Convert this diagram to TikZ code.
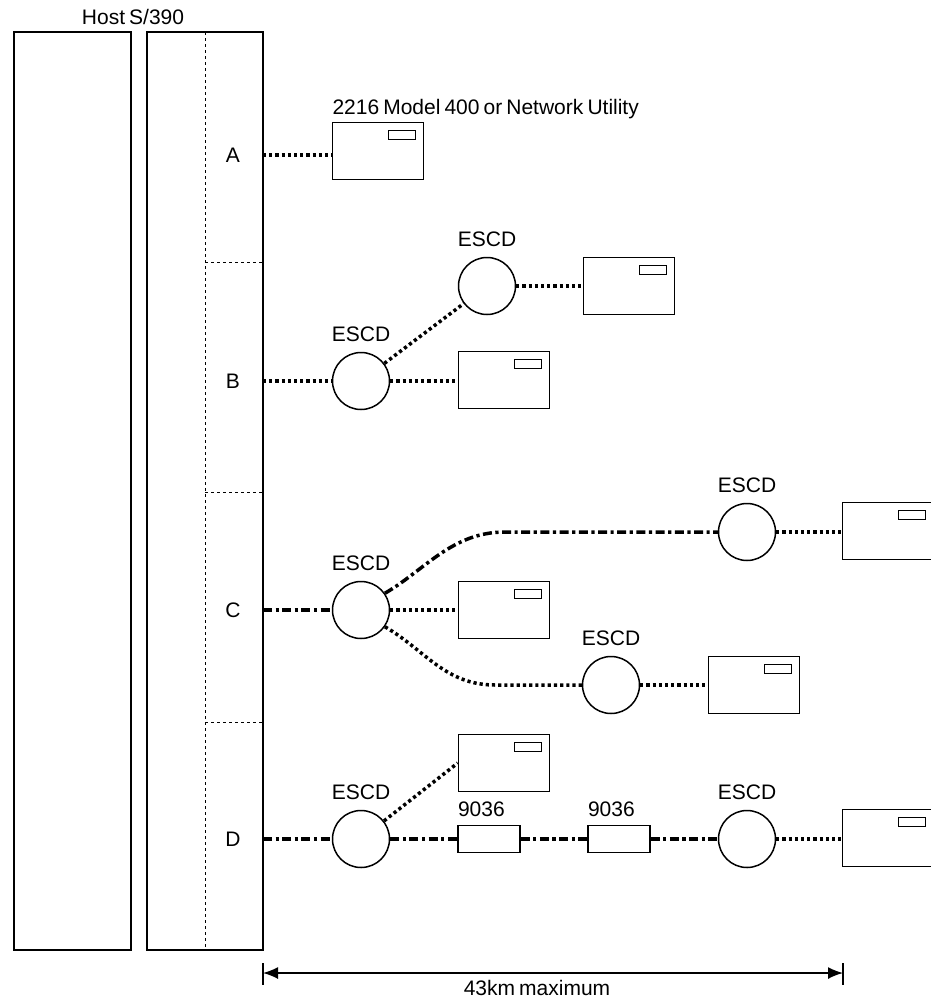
\documentclass[tikz,border=0pt]{standalone}
\usepackage{fontspec}
\setmainfont{Liberation Sans}[WordSpace=0.7]
\usepackage{tikz}
\usetikzlibrary{arrows.meta}

\begin{document}
\begin{tikzpicture}[x=1pt, y=-1pt, >={Latex[length=15pt,width=12pt]},
		font=\fontsize{21}{25}\selectfont, line width=1.5pt,
		escd/.style={circle, draw, minimum size=57pt, inner sep=0pt, label={[anchor=base,yshift=10pt]90:ESCD}},
		device/.style={draw, minimum width=91pt, minimum height=57pt, inner sep=0pt},
		repeater/.style={draw, minimum width=62pt, minimum height=27pt, inner sep=0pt},
		fibre/.style={line width=3.5pt, dash pattern=on 3.2pt off 3pt},
		cable/.style={line width=3.5pt, dash pattern=on 9pt off 3.5pt on 3.2pt off 3.5pt}]
		\useasboundingbox (0,0) rectangle (931,1001);
		\clip (0,0) rectangle (931,1001);
		% host
		\node at (133,17) {Host S/390};
		\draw (14,32) rectangle (131,950);
		\draw (147,32) rectangle (263,950);
		\draw[line width=0.9pt, dash pattern=on 3pt off 3pt] (205,32) -- (205,950);
		\foreach \y in {262,492,722}{
			\draw[line width=0.9pt, dash pattern=on 3pt off 3pt] (205,\y) -- (263,\y);
		}
		\node (chA) at (233,155) {A};
		\node (chB) at (233,381) {B};
		\node (chC) at (233,610) {C};
		\node (chD) at (233,839) {D};
		\coordinate (pA) at (263,155);
		\coordinate (pB) at (263,381);
		\coordinate (pC) at (263,610);
		\coordinate (pD) at (263,839);
		% switches, repeaters and devices
		\node[device] (devA) at (378,151) {};
		\node[device] (devB1) at (629,286) {};
		\node[device] (devB2) at (504,380) {};
		\node[device] (devC1) at (504,610) {};
		\node[device] (devC2) at (888,531) {};
		\node[device] (devC3) at (754,685) {};
		\node[device] (devD1) at (504,763) {};
		\node[device] (devD2) at (888,838) {};
		\foreach \d in {devA,devB1,devB2,devC1,devC2,devC3,devD1,devD2}{
			\draw[line width=1.2pt] ([xshift=-36pt,yshift=-9pt]\d.north east) rectangle ++(27,9);
		}
		\node[anchor=base west, inner sep=0pt] (lblA) at ([yshift=7pt]devA.north west) {2216 Model 400 or Network Utility};
		\node[escd] (escB1) at (361,381) {};
		\node[escd] (escB2) at (487,286) {};
		\node[escd] (escC1) at (361,610) {};
		\node[escd] (escC2) at (747,532) {};
		\node[escd] (escC3) at (611,685) {};
		\node[escd] (escD1) at (361,839) {};
		\node[escd] (escD2) at (747,839) {};
		\node[repeater] (repD1) at (489,839) {};
		\node[repeater] (repD2) at (619,839) {};
		\node[anchor=base west, inner sep=0pt] at ([yshift=8pt]repD1.north west) {9036};
		\node[anchor=base west, inner sep=0pt] at ([yshift=8pt]repD2.north west) {9036};
		% links
		\draw[fibre] (pA) -- (pA -| devA.west);
		\draw[fibre] (pB) -- (escB1);
		\draw[fibre] (escB1) -- (escB2);
		\draw[fibre] (escB1) -- (escB1 -| devB2.west);
		\draw[fibre] (escB2) -- (escB2 -| devB1.west);
		\draw[cable] (pC) -- (escC1);
		\draw[fibre] (escC1) -- (devC1.west);
		\draw[cable] (escC1.35) .. controls (425,570) and (452,532) .. (505,532) -- (escC2.west);
		\draw[fibre] (escC2) -- (escC2 -| devC2.west);
		\draw[fibre] (escC1.-35) .. controls (425,650) and (445,685) .. (495,685) -- (escC3.west);
		\draw[fibre] (escC3) -- (escC3 -| devC3.west);
		\draw[cable] (pD) -- (escD1);
		\draw[fibre] (escD1) -- (devD1.west);
		\draw[cable] (escD1) -- (repD1);
		\draw[cable] (repD1) -- (repD2);
		\draw[cable] (repD2) -- (escD2);
		\draw[fibre] (escD2) -- (escD2 -| devD2.west);
		% distance
		\coordinate (dL) at (263,973);
		\coordinate (dR) at (843,973);
		\draw (263,963) -- (263,985);
		\draw (843,963) -- (843,985);
		\draw[<->] (dL) -- (dR);
		\node[anchor=base] (dist) at (537,995) {43km maximum};
	\end{tikzpicture}
\end{document}
